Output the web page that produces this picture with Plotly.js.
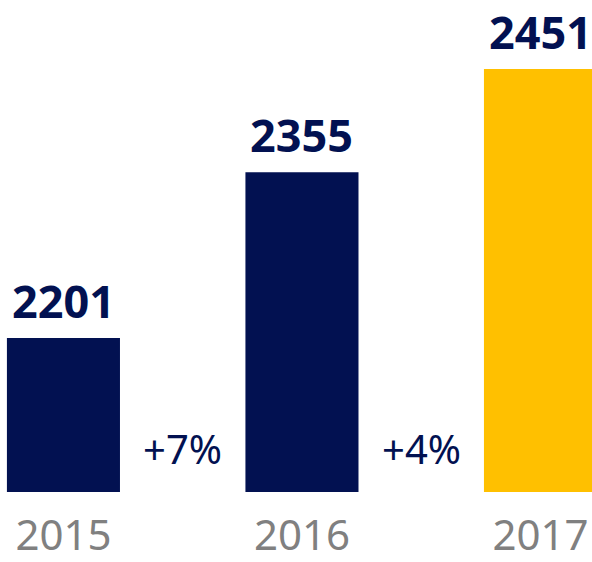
<!DOCTYPE html>
<html>
<head>
<meta charset="utf-8">
<script src="https://cdn.plot.ly/plotly-3.0.1.min.js"></script>
<style>html,body{margin:0;padding:0;background:#fff;}#chart{width:592px;height:562px;}</style>
</head>
<body>
<div id="chart"></div>
<script>
const years = ['2015', '2016', '2017'];
const values = [2201, 2355, 2451];
const barColors = ['#021151', '#021151', '#FFC000'];
const growthLabels = ['+7%', '+4%'];

const navy = '#021151';
const font = 'Noto Sans, Open Sans, sans-serif';

const annotations = [];
values.forEach((v, i) => {
  annotations.push({
    x: i, y: v, xref: 'x', yref: 'y',
    text: '<b>' + v + '</b>', showarrow: false,
    yanchor: 'bottom', yshift: 6, borderpad: 0,
    font: {family: font, size: 45, color: navy}
  });
});
growthLabels.forEach((g, i) => {
  annotations.push({
    x: i + 0.5, y: 0.089, xref: 'x', yref: 'paper',
    text: g, showarrow: false, yanchor: 'middle', xanchor: 'center',
    font: {family: font, size: 40, color: navy}
  });
});

const trace = {
  type: 'bar', x: years, y: values,
  marker: {color: barColors},
  hoverinfo: 'none'
};

const layout = {
  width: 592, height: 562,
  margin: {l: 0, r: 0, t: 0, b: 70},
  paper_bgcolor: '#ffffff', plot_bgcolor: '#ffffff',
  bargap: 0.526,
  showlegend: false,
  xaxis: {
    type: 'category', range: [-0.266, 2.216],
    showgrid: false, zeroline: false, showline: false, ticks: '',
    tickfont: {family: font, size: 42, color: '#808080'},
    ticklabelstandoff: 15,
    fixedrange: true
  },
  yaxis: {
    range: [2058, 2515], visible: false, showgrid: false, zeroline: false,
    fixedrange: true
  },
  annotations: annotations
};

Plotly.newPlot('chart', [trace], layout, {displayModeBar: false, staticPlot: true});
</script>
</body>
</html>
